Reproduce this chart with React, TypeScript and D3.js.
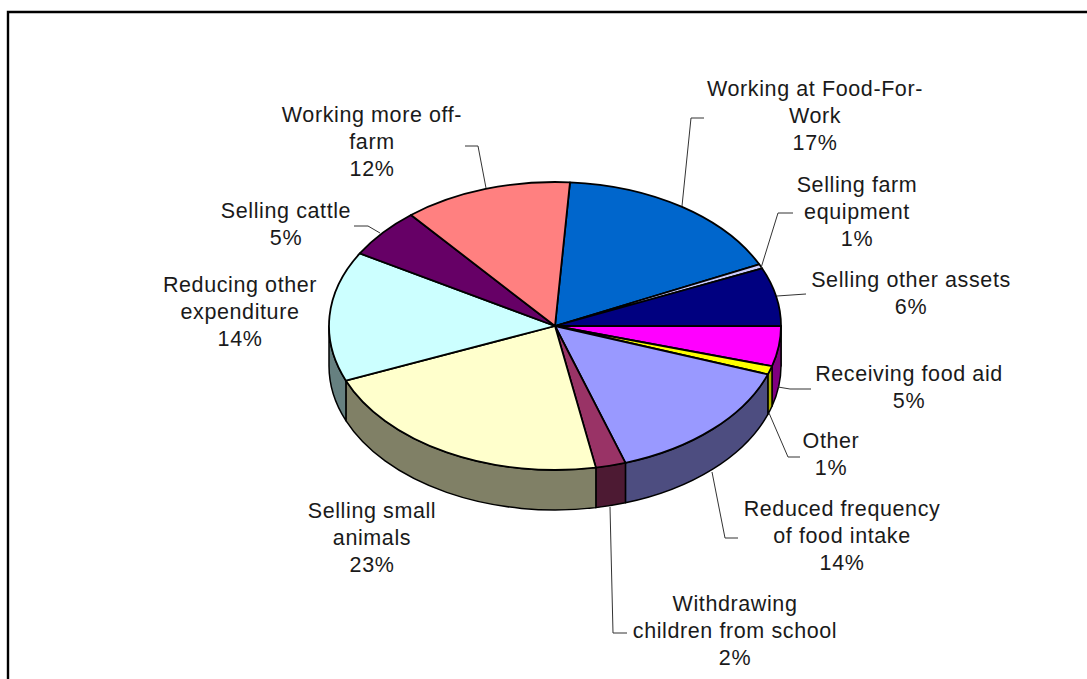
import React from "react";
import * as d3 from "d3";

const categories = [
  "Working at Food-For-Work", "Selling farm equipment", "Selling other assets",
  "Receiving food aid", "Other", "Reduced frequency of food intake",
  "Withdrawing children from school", "Selling small animals",
  "Reducing other expenditure", "Selling cattle", "Working more off-farm",
];
// Slice shares as drawn in the picture (read from the slice boundaries)
const values = [16.9, 0.5, 6.55, 4.5, 0.95, 14.5, 2.15, 21.7, 14.6, 5.6, 12.05];
const colors = ["#0066CC", "#CCCCFF", "#000080", "#FF00FF", "#FFFF00", "#9999FF", "#993366", "#FFFFCC", "#CCFFFF", "#660066", "#FF8080"];
const labelLines = [
  ["Working at Food-For-", "Work", "17%"],
  ["Selling farm", "equipment", "1%"],
  ["Selling other assets", "6%"],
  ["Receiving food aid", "5%"],
  ["Other", "1%"],
  ["Reduced frequency", "of food intake", "14%"],
  ["Withdrawing", "children from school", "2%"],
  ["Selling small", "animals", "23%"],
  ["Reducing other", "expenditure", "14%"],
  ["Selling cattle", "5%"],
  ["Working more off-", "farm", "12%"],
];
const labelX = [815, 857, 911, 909, 831, 842, 735, 372, 240, 286, 372];
const labelY = [89, 185, 280, 374, 441, 509, 604, 511, 285, 211, 115];
const leaders: [number, number][][] = [
  [[682, 206], [691, 118], [704, 118]],
  [[761, 268], [778, 213], [793, 213]],
  [[777, 296], [806, 294]],
  [[778, 387], [790, 389], [811, 389]],
  [[769, 413], [788, 457], [800, 457]],
  [[712, 472], [725, 538], [738, 538]],
  [[610, 507], [613, 633], [627, 633]],
  [[380, 233], [368, 226], [354, 226]],
  [[486, 188], [478, 146], [465, 146]],
];

const cx = 555, cy = 326, rx = 226, ry = 144, depth = 40;
const startDeg = 3.8;
const fontFamily = "'Liberation Sans', Arial, sans-serif";

const px = (a: number) => cx + rx * Math.sin(a);
const py = (a: number) => cy - ry * Math.cos(a);

const halfTone = (c: string) => {
  const { r, g, b } = d3.rgb(c);
  return d3.rgb(r / 2, g / 2, b / 2).formatHex();
};
const sideColor = (c: string) => (c === "#FFFF00" ? "#B3B300" : halfTone(c));

export default function App() {
  const start = (startDeg * Math.PI) / 180;
  const arcs = d3.pie<number>().sort(null).startAngle(start).endAngle(start + 2 * Math.PI)(values);

  const topPath = (a0: number, a1: number) =>
    `M${cx},${cy}L${px(a0)},${py(a0)}A${rx},${ry} 0 ${a1 - a0 > Math.PI ? 1 : 0} 1 ${px(a1)},${py(a1)}Z`;
  const sidePath = (a0: number, a1: number) =>
    `M${px(a0)},${py(a0)}A${rx},${ry} 0 0 1 ${px(a1)},${py(a1)}L${px(a1)},${py(a1) + depth}A${rx},${ry} 0 0 0 ${px(a0)},${py(a0) + depth}Z`;
  const line = d3.line();

  const sides = arcs
    .map((d, i) => ({
      i,
      a0: Math.max(d.startAngle, Math.PI / 2),
      a1: Math.min(d.endAngle, (3 * Math.PI) / 2),
    }))
    .filter((s) => s.a1 > s.a0);

  return (
    <svg width={1087} height={679} style={{ position: "absolute", left: 0, top: 0, background: "#fff" }}>
      <path d="M8,690V12H1090" fill="none" stroke="#000" strokeWidth={2.4} />
      <g stroke="#000" strokeWidth={1.5} strokeLinejoin="round">
        {sides.map((s) => (
          <path key={s.i} d={sidePath(s.a0, s.a1)} fill={sideColor(colors[s.i])} />
        ))}
      </g>
      <g stroke="#000" strokeWidth={1.8} strokeLinejoin="round">
        {arcs.map((d, i) => (
          <path key={categories[i]} d={topPath(d.startAngle, d.endAngle)} fill={colors[i]} />
        ))}
      </g>
      <g fill="none" stroke="#333" strokeWidth={1}>
        {leaders.map((l, i) => <path key={i} d={line(l) || ""} />)}
      </g>
      <g fontFamily={fontFamily} fontSize={21.5} letterSpacing={0.6} fill="#1a1a1a" textAnchor="middle">
        {labelLines.map((ls, i) => ls.map((t, j) => (
          <text key={`${i}-${j}`} x={labelX[i]} y={labelY[i] + j * 26.8 + 7}>{t}</text>
        )))}
      </g>
    </svg>
  );
}
